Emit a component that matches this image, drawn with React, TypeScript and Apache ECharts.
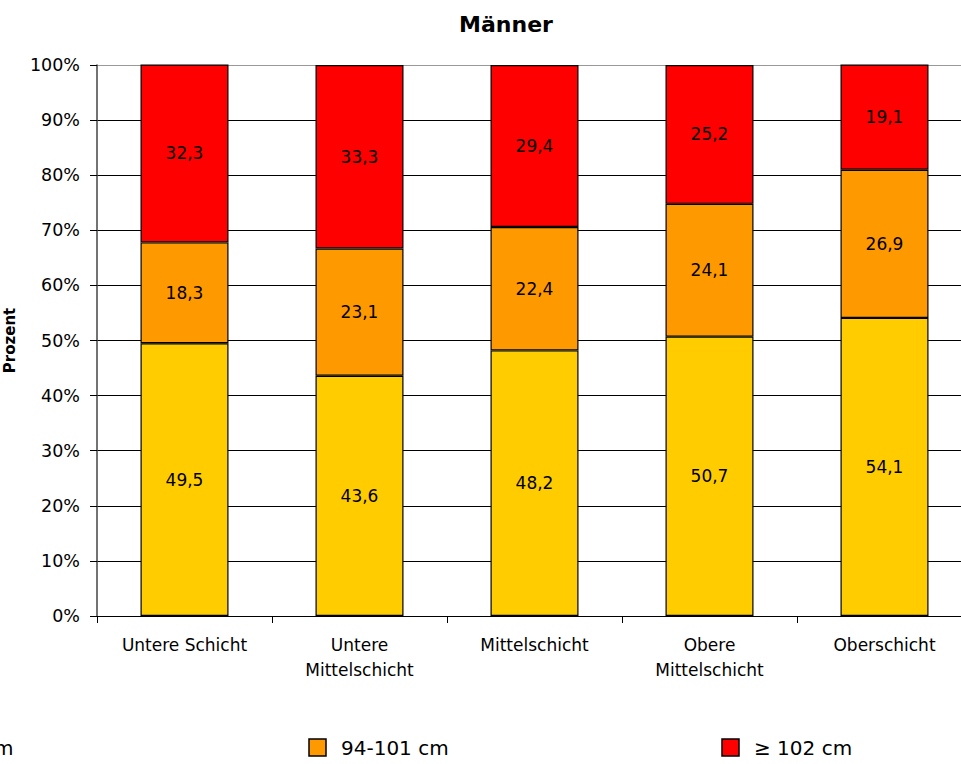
import React, { useEffect, useRef } from "react";
import * as echarts from "echarts";

const categories = ["Untere Schicht", "Untere\nMittelschicht", "Mittelschicht", "Obere\nMittelschicht", "Oberschicht"];
const seriesNames = ["< 94 cm", "94-101 cm", "≥ 102 cm"];
const under94 = [49.5, 43.6, 48.2, 50.7, 54.1];
const from94to101 = [18.3, 23.1, 22.4, 24.1, 26.9];
const over102 = [32.3, 33.3, 29.4, 25.2, 19.1];
const colors = ["#FFCC00", "#FF9900", "#FF0000"];
const yTicks = [0, 10, 20, 30, 40, 50, 60, 70, 80, 90, 100];

const FONT = "DejaVu Sans";

export default function App() {
  const ref = useRef<HTMLDivElement>(null);
  useEffect(() => {
    if (!ref.current) return;
    const chart = echarts.init(ref.current, undefined, { renderer: "svg" });
    const data = [under94, from94to101, over102];
    const series = data.map((d, i) => ({
      name: seriesNames[i],
      type: "bar",
      stack: "total",
      barWidth: 88,
      data: d,
      itemStyle: { color: colors[i], borderColor: "#000", borderWidth: 1.2 },
      label: {
        show: true,
        position: "inside",
        color: "#000",
        fontFamily: FONT,
        fontSize: 17,
        formatter: (p: any) => Number(p.value).toFixed(1).replace(".", ","),
      },
    }));
    const legendGraphics: any[] = [];
    seriesNames.forEach((n, i) => {
      const bx = -104 + i * 413;
      legendGraphics.push({
        type: "rect",
        shape: { x: bx, y: 739, width: 17, height: 17 },
        style: { fill: colors[i], stroke: "#000", lineWidth: 1.5 },
      });
      legendGraphics.push({
        type: "text",
        x: bx + 32,
        y: 748,
        style: { text: n, fill: "#000", font: `20px '${FONT}'`, textVerticalAlign: "middle", verticalAlign: "middle" },
      });
    });
    chart.setOption({
      animation: false,
      backgroundColor: "#fff",
      title: {
        text: "Männer",
        left: 501,
        textAlign: "center",
        top: 8,
        textStyle: { fontFamily: FONT, fontWeight: "bold", fontSize: 22, color: "#000" },
      },
      grid: { left: 97, top: 65, width: 875, height: 551, containLabel: false, outerBoundsMode: "none" },
      xAxis: {
        type: "category",
        data: categories,
        axisLine: { lineStyle: { color: "#000", width: 1 } },
        axisTick: { show: true, length: 7, lineStyle: { color: "#000" } },
        axisLabel: { color: "#000", fontFamily: FONT, fontSize: 17, margin: 16, lineHeight: 25, interval: 0 },
      },
      yAxis: {
        type: "value",
        min: 0,
        max: 100,
        interval: 10,
        name: "Prozent",
        nameLocation: "middle",
        nameGap: 80,
        nameTextStyle: { fontFamily: FONT, fontWeight: "bold", fontSize: 15, color: "#000" },
        axisLine: { show: true, lineStyle: { color: "#444", width: 1.5 } },
        axisTick: { show: true, length: 7, lineStyle: { color: "#000" } },
        axisLabel: { color: "#000", fontFamily: FONT, fontSize: 17.5, margin: 17, formatter: "{value}%" },
        splitLine: {
          show: true,
          lineStyle: { color: yTicks.map((t) => (t === 100 ? "#999" : "#000")), width: 1 },
        },
      },
      series,
      graphic: legendGraphics,
    });
    return () => chart.dispose();
  }, []);
  return <div ref={ref} style={{ position: "absolute", left: 0, top: 0, width: 961, height: 764 }} />;
}
